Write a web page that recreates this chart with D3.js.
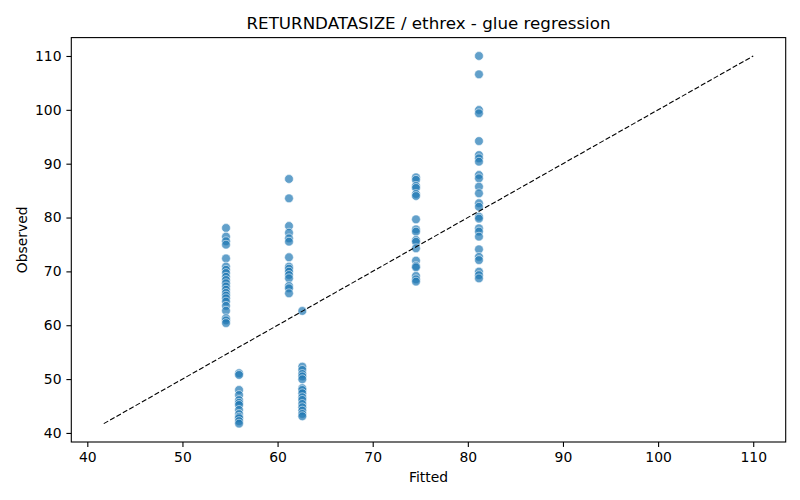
<!DOCTYPE html>
<html><head><meta charset="utf-8">
<script src="https://cdn.jsdelivr.net/npm/d3@7"></script>
<style>body{margin:0;background:#fff}svg{display:block;font-family:"DejaVu Sans",sans-serif}</style>
</head><body><svg id="c" width="800" height="500"></svg>
<script>
const title = "RETURNDATASIZE / ethrex - glue regression";
const xLabel = "Fitted";
const yLabel = "Observed";
const xTicks = [40,50,60,70,80,90,100,110];
const yTicks = [40,50,60,70,80,90,100,110];
const fittedGroups = [54.58, 55.95, 61.2, 62.6, 74.55, 81.17];
const observedGroups = [
  [78.06,76.45,75.6,74.96,72.4,70.9,70.3,69.7,69.0,68.4,67.8,67.2,66.6,66.0,65.5,65.0,64.4,63.6,62.7,61.3,60.9,60.4],
  [51.08,50.77,47.98,47.05,46.1,45.6,45.2,44.27,43.5,43.0,42.73,42.2,41.73],
  [87.16,83.57,78.43,77.19,76.14,75.52,72.62,70.88,70.5,69.95,69.33,68.72,67.29,66.86,65.93],
  [62.65,52.31,51.7,50.95,50.5,49.97,48.3,47.98,47.37,46.63,46.13,45.38,44.77,44.15,43.53,43.1],
  [87.47,87.0,85.86,85.5,84.37,84.0,79.67,77.8,77.38,75.83,75.5,74.29,71.99,71.0,70.76,69.15,68.53,68.1],
  [110.0,106.6,99.97,99.36,94.2,91.6,91.0,90.37,87.9,87.29,85.73,84.5,82.65,82.0,80.16,79.8,78.0,77.4,76.45,74.1,72.7,72.1,69.95,69.3,68.7]
];
const lineRange = [41.73, 110.0];

const points = [];
fittedGroups.forEach((f,i)=>observedGroups[i].forEach(o=>points.push({f,o})));

const svg = d3.select("#c");
const L=71.3, R=785.7, T=37.6, B=442;
const pad = (lineRange[1]-lineRange[0])*0.05;
const x = d3.scaleLinear().domain([lineRange[0]-pad, lineRange[1]+pad]).range([L,R]);
const y = d3.scaleLinear().domain([lineRange[0]-pad, lineRange[1]+pad]).range([B,T]);

const gx = svg.append("g").attr("transform",`translate(0,${B})`)
  .call(d3.axisBottom(x).tickValues(xTicks).tickSize(4.9).tickPadding(4.9).tickFormat(d3.format("d")));
const gy = svg.append("g").attr("transform",`translate(${L},0)`)
  .call(d3.axisLeft(y).tickValues(yTicks).tickSize(4.9).tickPadding(4.9).tickFormat(d3.format("d")));
[gx,gy].forEach(g=>{
  g.select(".domain").remove();
  g.selectAll("line").attr("stroke","#000").attr("stroke-width",1.1);
  g.selectAll("text").attr("font-size","13.9px").attr("fill","#000").attr("font-family","DejaVu Sans");
});

svg.append("g").selectAll("circle").data(points).join("circle")
  .attr("cx",d=>x(d.f)).attr("cy",d=>y(d.o)).attr("r",4.4)
  .attr("fill","#1f77b4").attr("fill-opacity",0.7)
  .attr("stroke","#fff").attr("stroke-width",0.8).attr("stroke-opacity",0.7);

svg.append("line")
  .attr("x1",x(lineRange[0])).attr("y1",y(lineRange[0]))
  .attr("x2",x(lineRange[1])).attr("y2",y(lineRange[1]))
  .attr("stroke","#000").attr("stroke-width",1.1).attr("stroke-dasharray","5.1,2.2");

svg.append("rect").attr("x",L).attr("y",T).attr("width",R-L).attr("height",B-T)
  .attr("fill","none").attr("stroke","#000").attr("stroke-width",1.1);

svg.append("text").attr("x",(L+R)/2).attr("y",29).attr("text-anchor","middle")
  .attr("font-size","16.7px").text(title);
svg.append("text").attr("x",(L+R)/2).attr("y",482).attr("text-anchor","middle")
  .attr("font-size","13.9px").text(xLabel);
svg.append("text").attr("transform",`translate(27,${(T+B)/2}) rotate(-90)`).attr("text-anchor","middle")
  .attr("font-size","13.9px").text(yLabel);
</script></body></html>
